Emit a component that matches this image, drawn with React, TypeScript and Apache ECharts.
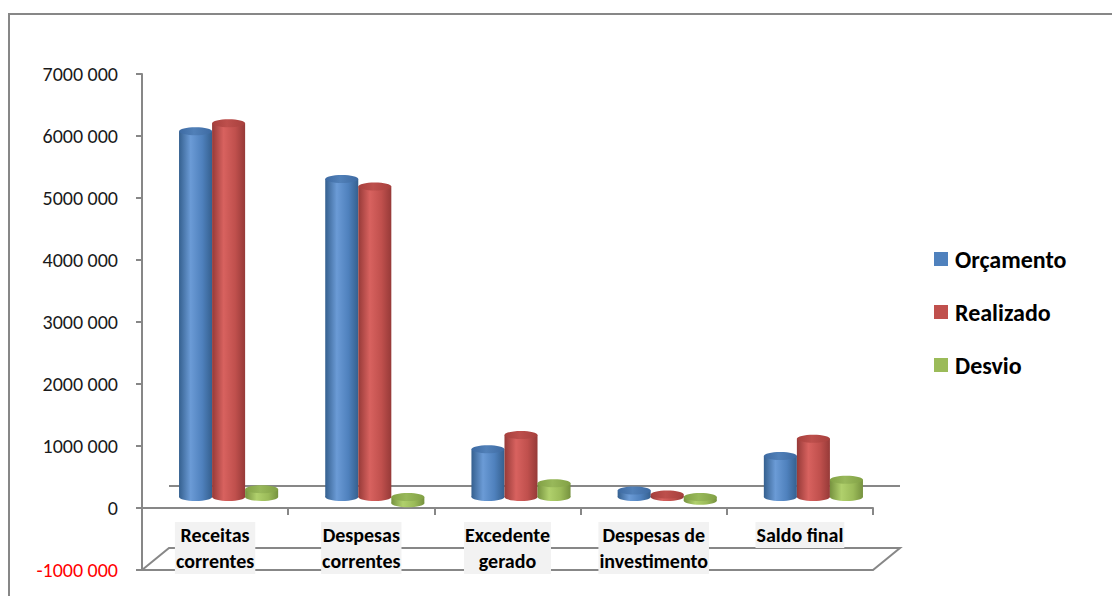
import React, { useEffect, useRef } from "react";
import * as echarts from "echarts";

// ---- data ----
const categories = [
  "Receitas\ncorrentes",
  "Despesas\ncorrentes",
  "Excedente\ngerado",
  "Despesas de\ninvestimento",
  "Saldo final",
];
const seriesNames = ["Orçamento", "Realizado", "Desvio"];
const orcamento = [5900000, 5130000, 770000, 105000, 660000];
const realizado = [6030000, 5010000, 1000000, 40000, 940000];
const desvio = [125000, -100000, 220000, -60000, 280000];
const yMin = -1000000;
const yMax = 7000000;
const yStep = 1000000;

// ---- style ----
const FONT = "Carlito, Calibri, Lato, sans-serif";
const GRAY = "#878787";
const DX = 27; // depth offset (x)
const DY = 22; // depth offset (y)
const RY = 4; // ellipse radius y

const palettes = [
  { base: "#4f81bd", dark: "#35608f", light: "#6b9bd6", top: "#3d6aa2", topL: "#5180b8" },
  { base: "#c0504d", dark: "#963a38", light: "#d8625f", top: "#a7403d", topL: "#bd4f4c" },
  { base: "#9bbb59", dark: "#76923f", light: "#b0d06c", top: "#82a145", topL: "#98b85a" },
];

function bodyGrad(p: any) {
  return new echarts.graphic.LinearGradient(0, 0, 1, 0, [
    { offset: 0, color: p.dark },
    { offset: 0.35, color: p.light },
    { offset: 0.7, color: p.base },
    { offset: 1, color: p.dark },
  ]);
}
function topGrad(p: any) {
  return new echarts.graphic.LinearGradient(0, 0, 1, 0, [
    { offset: 0, color: p.top },
    { offset: 0.45, color: p.topL },
    { offset: 1, color: p.top },
  ]);
}

function cylinderRenderer(sIdx: number) {
  const p = palettes[sIdx];
  return (params: any, api: any) => {
    const cat = api.value(0);
    const v = api.value(1);
    const p0 = api.coord([cat, 0]);
    const p1 = api.coord([cat, v]);
    const band = api.size([1, 0])[0];
    const bw = band * 0.226;
    const cx = p0[0] + (sIdx - 1) * bw + DX / 2;
    const y0 = p0[1] - DY / 2;
    const y1 = p1[1] - DY / 2;
    const top = Math.min(y0, y1);
    const bottom = Math.max(y0, y1);
    const rx = bw / 2;
    return {
      type: "group",
      children: [
        {
          type: "ellipse",
          shape: { cx, cy: bottom, rx, ry: RY },
          style: { fill: bodyGrad(p) },
        },
        {
          type: "rect",
          shape: { x: cx - rx, y: top, width: bw, height: bottom - top },
          style: { fill: bodyGrad(p) },
        },
        {
          type: "ellipse",
          shape: { cx, cy: top, rx, ry: RY },
          style: { fill: topGrad(p) },
        },
      ],
    };
  };
}

function frameRenderer(params: any, api: any) {
  const cs = params.coordSys;
  const x0 = cs.x;
  const x1 = cs.x + cs.width;
  const yF = cs.y + cs.height;
  const yZ = api.coord([0, 0])[1];
  const st = { stroke: GRAY, lineWidth: 2, fill: "none" };
  return {
    type: "group",
    children: [
      {
        type: "polyline",
        shape: {
          points: [
            [x0, yF],
            [x0 + DX, yF - DY],
            [x1 + DX, yF - DY],
            [x1, yF],
            [x0, yF],
          ],
        },
        style: st,
      },
      {
        type: "line",
        shape: { x1: x0 + DX, y1: yZ - DY, x2: x1 + DX, y2: yZ - DY },
        style: st,
      },
    ],
  };
}

function fmt(v: number) {
  if (v === 0) return "0";
  return `${Math.round(v / 1000)} 000`;
}

export default function App() {
  const ref = useRef<HTMLDivElement>(null);
  useEffect(() => {
    const chart = echarts.init(ref.current!, undefined, { renderer: "svg" });
    const values = [orcamento, realizado, desvio];
    chart.setOption({
      animation: false,
      backgroundColor: "#ffffff",
      grid: {
        left: 142,
        top: 74,
        width: 731,
        height: 496,
        containLabel: false,
        outerBoundsMode: "none",
      },
      legend: {
        orient: "vertical",
        left: 929,
        top: 240,
        itemWidth: 14,
        itemHeight: 14,
        itemGap: 25,
        icon: "rect",
        data: seriesNames,
        textStyle: {
          fontFamily: FONT,
          fontSize: 24,
          fontWeight: "bold",
          color: "#000",
          lineHeight: 28,
          padding: [0, 0, 0, 2],
        },
      },
      xAxis: {
        type: "category",
        data: categories,
        z: 1,
        axisLine: { onZero: true, lineStyle: { color: GRAY, width: 2 } },
        axisTick: { show: true, alignWithLabel: false, length: 7, lineStyle: { color: GRAY, width: 2 } },
        axisLabel: {
          interval: 0,
          margin: -48,
          fontFamily: FONT,
          fontSize: 20,
          fontWeight: "bold",
          color: "#000",
          lineHeight: 26,
          backgroundColor: "#f2f2f2",
          padding: [0, 1, 0, 1],
        },
        splitLine: { show: false },
      },
      yAxis: {
        type: "value",
        min: yMin,
        max: yMax,
        interval: yStep,
        axisLine: { show: true, lineStyle: { color: GRAY, width: 2 } },
        axisTick: { show: true, length: 6, lineStyle: { color: GRAY, width: 2 } },
        splitLine: { show: false },
        axisLabel: {
          margin: 24,
          fontFamily: FONT,
          fontSize: 20,
          color: (v: any) => (Number(v) < 0 ? "#ff0000" : "#1a1a1a"),
          formatter: (v: number) => fmt(v),
        },
      },
      graphic: [
        {
          type: "rect",
          x: 9,
          y: 14,
          shape: { x: 0, y: 0, width: 1300, height: 800 },
          style: { fill: "none", stroke: GRAY, lineWidth: 2 },
          silent: true,
        },
      ],
      series: [
        {
          type: "custom",
          name: "frame",
          z: 0,
          silent: true,
          renderItem: frameRenderer,
          data: [[0, 0]],
          encode: { x: 0, y: 1 },
        },
        ...values.map((arr, s) => ({
          type: "custom",
          name: seriesNames[s],
          z: 2,
          itemStyle: { color: palettes[s].base },
          renderItem: cylinderRenderer(s),
          data: arr.map((v, i) => [i, v]),
          encode: { x: 0, y: 1 },
        })),
      ],
    });
    return () => chart.dispose();
  }, []);
  return (
    <div
      ref={ref}
      style={{ position: "fixed", left: 0, top: 0, width: 1112, height: 596, background: "#fff" }}
    />
  );
}
